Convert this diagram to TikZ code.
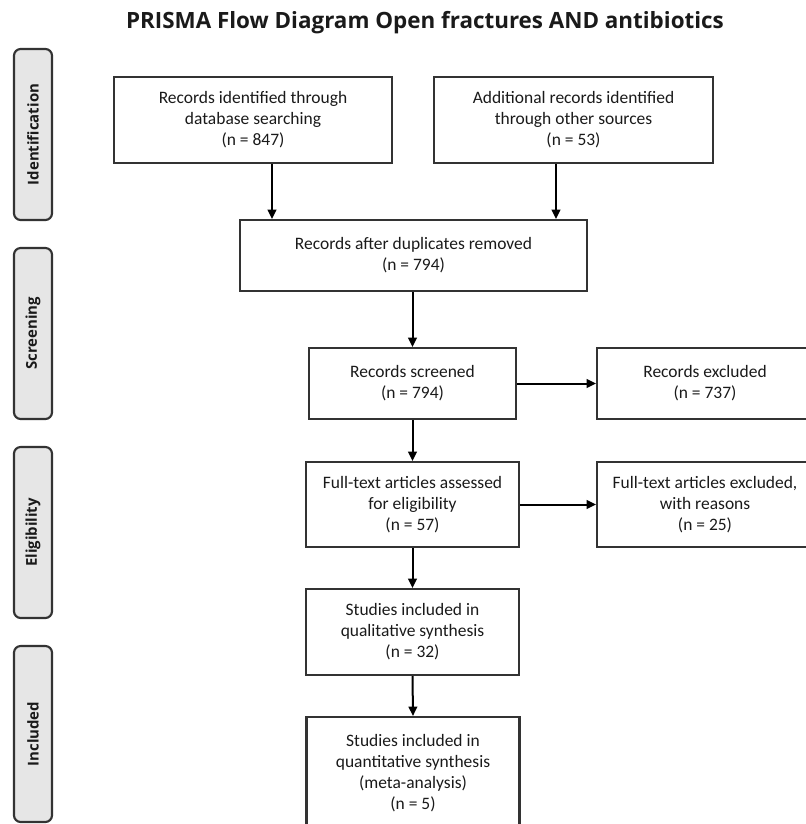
\documentclass[tikz,border=0pt]{standalone}
\usepackage{fontspec}
\setmainfont{Carlito}
\newfontfamily\titlefont{Open Sans}
\usetikzlibrary{arrows.meta}
\definecolor{edgec}{HTML}{333333}
\definecolor{barfill}{HTML}{E6E6E6}
\definecolor{txt}{HTML}{1A1A1A}
\tikzset{
  box/.style={draw=edgec, line width=1.6pt, rectangle, align=center, inner sep=0pt,
    font=\fontsize{13.1}{15.75}\selectfont, text=txt},
  bar/.style={draw=edgec, fill=barfill, line width=1.6pt, rounded corners=5pt},
  barlabel/.style={rotate=90, font=\titlefont\bfseries\fontsize{11.2}{13}\selectfont, text=txt},
  arr/.style={draw=black, line width=1.5pt, -{Triangle[length=7pt,width=6.5pt]}}
}
\begin{document}
\begin{tikzpicture}[x=0.75pt,y=-0.75pt]
\useasboundingbox (0,0) rectangle (806,824);
\clip (0,0) rectangle (806,824);
% title
\node[font=\titlefont\bfseries\fontsize{16.8}{20}\selectfont, text=txt] (title) at (425,23) {PRISMA Flow Diagram Open fractures AND antibiotics};
% side bars
\draw[bar] (14,49) rectangle (52,220);
\draw[bar] (14,248) rectangle (52,419);
\draw[bar] (14,447) rectangle (52,618);
\draw[bar] (14,646) rectangle (52,822);
\node[barlabel] (lid) at (33,134.5) {Identification};
\node[barlabel] (lsc) at (33,333.5) {Screening};
\node[barlabel] (lel) at (33,532.5) {Eligibility};
\node[barlabel] (lin) at (33,734) {Included};
% boxes
\node[box, minimum width=278*0.75pt, minimum height=86*0.75pt] (b1) at (253,120) {Records identified through\\database searching\\(n = 847)};
\node[box, minimum width=279*0.75pt, minimum height=86*0.75pt] (b2) at (573.5,120) {Additional records identified\\through other sources\\(n = 53)};
\node[box, minimum width=347*0.75pt, minimum height=71*0.75pt] (b3) at (413.5,255.5) {Records after duplicates removed\\(n = 794)};
\node[box, minimum width=207*0.75pt, minimum height=71*0.75pt] (b4) at (412.5,383.5) {Records screened\\(n = 794)};
\node[box, minimum width=216*0.75pt, minimum height=71*0.75pt] (b5) at (705,383.5) {Records excluded\\(n = 737)};
\node[box, minimum width=213*0.75pt, minimum height=85*0.75pt] (b6) at (412.5,504.5) {Full-text articles assessed\\for eligibility\\(n = 57)};
\node[box, minimum width=216*0.75pt, minimum height=85*0.75pt] (b7) at (705,504.5) {Full-text articles excluded,\\with reasons\\(n = 25)};
\node[box, minimum width=213*0.75pt, minimum height=86*0.75pt] (b8) at (412.5,632) {Studies included in\\qualitative synthesis\\(n = 32)};
\node[box, minimum width=213*0.75pt, minimum height=113*0.75pt] (b9) at (413,773.5) {Studies included in\\quantitative synthesis\\(meta-analysis)\\(n = 5)};
% connectors
\coordinate (c1) at (272,0);
\coordinate (c2) at (556,0);
\draw[arr] (b1.south -| c1) -- (b3.north -| c1);
\draw[arr] (b2.south -| c2) -- (b3.north -| c2);
\draw[arr] (b3.south -| b4) -- (b4.north);
\draw[arr] (b4.east) -- (b5.west);
\draw[arr] (b4.south) -- (b6.north);
\draw[arr] (b6.east) -- (b7.west);
\draw[arr] (b6.south) -- (b8.north);
\draw[arr] (b8.south) -- (b9.north);
\end{tikzpicture}
\end{document}
